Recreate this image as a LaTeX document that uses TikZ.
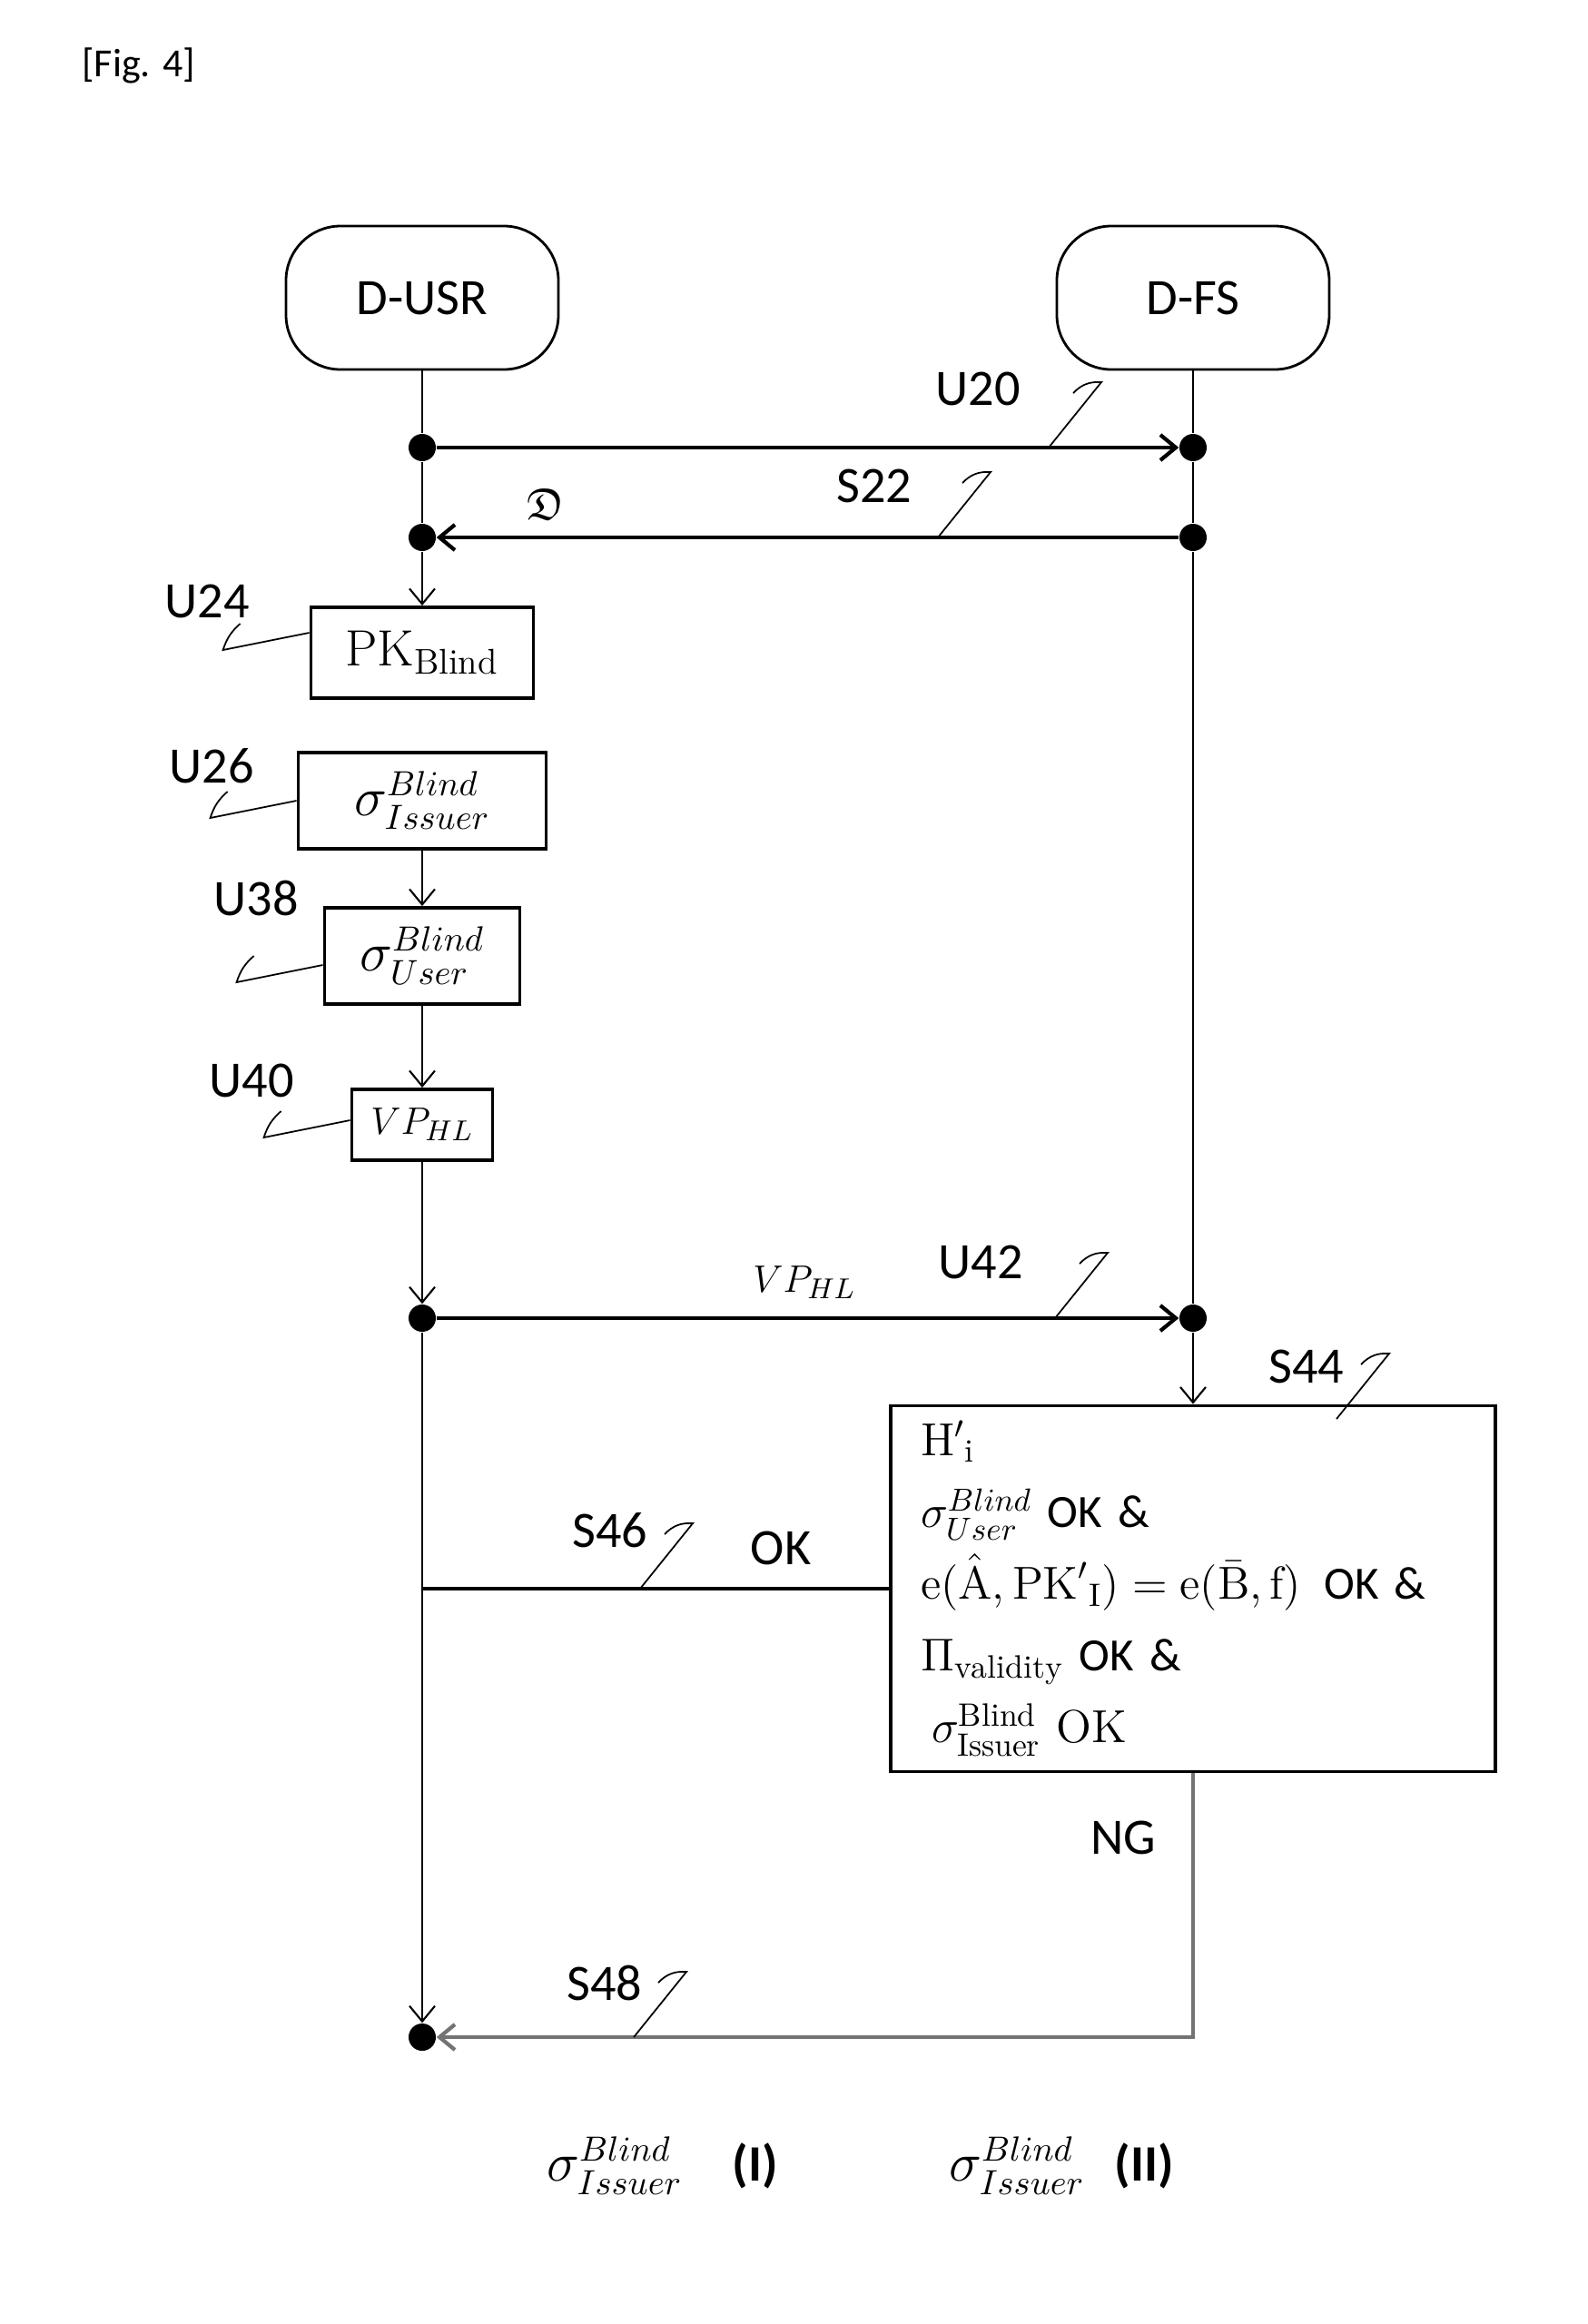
\documentclass[tikz,border=0pt]{standalone}
\usepackage{amssymb}
\usepackage{fontspec}
\newfontfamily\reffont{Carlito}
\usetikzlibrary{arrows.meta}

\begin{document}
\begin{tikzpicture}[
    entity/.style={draw, line width=0.8pt, rounded corners=0.6cm, minimum width=3cm, minimum height=1.58cm, font=\reffont\fontsize{16}{19}\selectfont},
    stepbox/.style={draw, line width=1.1pt, inner sep=0pt, font=\fontsize{16}{19}\selectfont},
    dot/.style={circle, fill, inner sep=0pt, minimum size=0.3cm},
    tag/.style={font=\reffont\fontsize{16}{19}\selectfont},
    arrow/.style={-{Straight Barb[length=1.7mm,width=2.8mm]}, line width=0.6pt},
    msg/.style={arrow, line width=1.2pt},
    lifeline/.style={line width=0.6pt},
    hookR/.pic={\draw[line width=0.5pt] (0,0) -- (0.58,0.72) to[bend right=25] (0.27,0.6);},
    hookL/.pic={\draw[line width=0.5pt] (0,0) -- (-0.95,-0.19) to[bend left=15] (-0.76,0.1);}
]
\useasboundingbox (0,0) rectangle (17.48,-25.6);

\node[font=\reffont\fontsize{12.5}{15}\selectfont, anchor=west] (fig) at (0.78,-0.72) {[Fig. 4]};

% Devices
\node[entity] (usr) at (4.65,-3.28) {D-USR};
\node[entity] (fs) at (13.14,-3.28) {D-FS};

% Points on the lifelines
\node[dot] (u1) at (4.65,-4.93) {};
\node[dot] (f1) at (13.14,-4.93) {};
\node[dot] (u2) at (4.65,-5.92) {};
\node[dot] (f2) at (13.14,-5.92) {};
\node[dot] (u3) at (4.65,-14.52) {};
\node[dot] (f3) at (13.14,-14.52) {};
\node[dot] (u4) at (4.65,-22.44) {};

% Steps
\node[stepbox, minimum width=2.45cm, minimum height=1cm] (pk) at (4.65,-7.19) {$\mathrm{PK}_{\mathrm{Blind}}$};
\node[stepbox, minimum width=2.73cm, minimum height=1.06cm] (sigi) at (4.65,-8.82) {$\sigma^{Blind}_{Issuer}$};
\node[stepbox, minimum width=2.15cm, minimum height=1.06cm] (sigu) at (4.65,-10.53) {$\sigma^{Blind}_{User}$};
\node[stepbox, minimum width=1.55cm, minimum height=0.78cm, font=\fontsize{13}{15}\selectfont] (vp) at (4.65,-12.39) {$VP_{HL}$};
\node[stepbox, minimum width=6.66cm, minimum height=4.03cm, text width=6cm, inner xsep=0.33cm, align=left, font=\fontsize{14.5}{22.5}\selectfont] (check) at (13.14,-17.5) {%
$\mathrm{H}'{}_{\mathrm{i}}$\\
$\sigma^{Blind}_{User}$ {\reffont OK \&}\\
$\mathrm{e}(\hat{\mathrm{A}}, \mathrm{PK}'{}_{\mathrm{I}}) = \mathrm{e}(\bar{\mathrm{B}}, \mathrm{f})$\, {\reffont OK \&}\\
$\Pi_{\mathrm{validity}}$ {\reffont OK \&}\\
\hspace*{0.12cm}$\sigma^{\mathrm{Blind}}_{\mathrm{Issuer}}$ OK};

% Reference labels
\node[tag] (l20) at (10.77,-4.28) {U20};
\node[tag] (l22) at (9.63,-5.35) {S22};
\node[font=\fontsize{14}{16}\selectfont] (dd) at (6.01,-5.55) {$\mathfrak{D}$};
\node[tag] (l24) at (2.28,-6.62) {U24};
\node[tag] (l26) at (2.33,-8.44) {U26};
\node[tag] (l38) at (2.82,-9.89) {U38};
\node[tag] (l40) at (2.77,-11.90) {U40};
\node[font=\fontsize{13}{15}\selectfont] (vpm) at (8.86,-14.13) {$VP_{HL}$};
\node[tag] (l42) at (10.80,-13.90) {U42};
\node[tag] (l44) at (14.39,-15.05) {S44};
\node[tag] (l46) at (6.72,-16.86) {S46};
\node[tag] (ok) at (8.60,-17.05) {OK};
\node[tag] (ng) at (12.37,-20.24) {NG};
\node[tag] (l48) at (6.66,-21.84) {S48};

% Results
\node[font=\fontsize{16}{19}\selectfont] (res1) at (6.77,-23.86) {$\sigma^{Blind}_{Issuer}$};
\node[tag, font=\reffont\bfseries\fontsize{16}{19}\selectfont] (num1) at (8.32,-23.86) {(I)};
\node[font=\fontsize{16}{19}\selectfont] (res2) at (11.20,-23.86) {$\sigma^{Blind}_{Issuer}$};
\node[tag, font=\reffont\bfseries\fontsize{16}{19}\selectfont] (num2) at (12.60,-23.86) {(II)};

% Lifelines and messages
\draw[lifeline] (usr) -- (u1) -- (u2);
\draw[arrow] (u2) -- (pk);
\draw[lifeline] (fs) -- (f1) -- (f2) -- (f3);
\draw[msg] (u1) -- (f1);
\draw[msg] (f2) -- (u2);
\draw[arrow] (sigi) -- (sigu);
\draw[arrow] (sigu) -- (vp);
\draw[arrow] (vp) -- (u3);
\draw[msg] (u3) -- (f3);
\draw[arrow] (f3) -- (check);
\draw[arrow] (u3) -- (u4);
\coordinate (okjoin) at (check.west -| u3);
\draw[line width=1.2pt] (check.west) -- (okjoin);
\draw[msg, black!55] (check.south) |- (u4);

% Leaders
\pic at (11.55,-4.93) {hookR};
\pic at (10.33,-5.92) {hookR};
\pic at (11.62,-14.52) {hookR};
\pic at (14.72,-15.63) {hookR};
\pic at (7.05,-17.50) {hookR};
\pic at (6.98,-22.44) {hookR};
\pic at ([yshift=0.22cm]pk.west) {hookL};
\pic at (sigi.west) {hookL};
\pic at ([yshift=-0.1cm]sigu.west) {hookL};
\pic at ([yshift=0.05cm]vp.west) {hookL};
\end{tikzpicture}
\end{document}
